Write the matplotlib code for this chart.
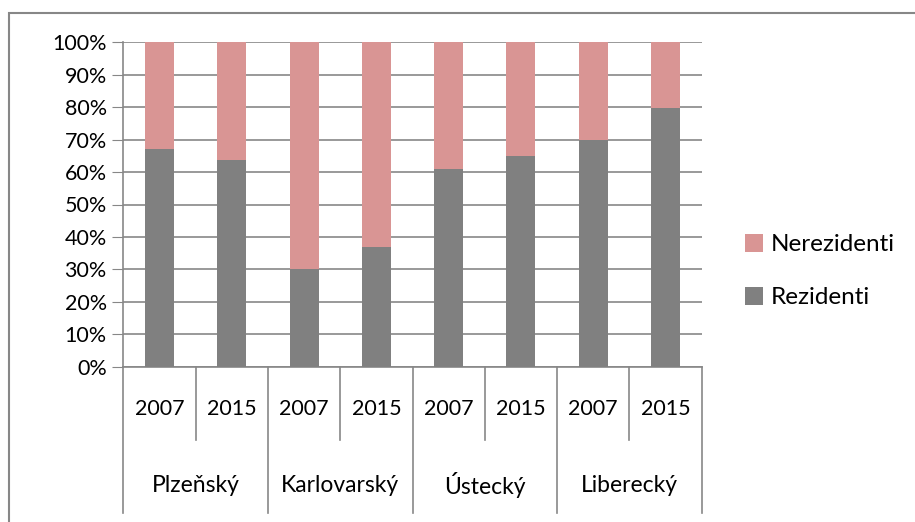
import matplotlib.pyplot as plt
from matplotlib.patches import Rectangle
from matplotlib.ticker import FuncFormatter

plt.rcParams['font.family'] = ['Lato', 'DejaVu Sans']

regions = ['Plzeňský', 'Karlovarský', 'Ústecký', 'Liberecký']
years = ['2007', '2015', '2007', '2015', '2007', '2015', '2007', '2015']
rezidenti = [67.0, 63.8, 30.2, 37.0, 60.8, 65.0, 70.0, 79.8]
nerezidenti = [100 - v for v in rezidenti]

c_rez = '#808080'
c_nerez = '#D99594'
c_line = '#878787'

W, H = 915, 522
fig = plt.figure(figsize=(W / 100, H / 100), dpi=100)

# outer chart border
fig.patches.append(Rectangle((9 / W, -0.02), 1.0, 1.02 - 13 / H,
                             transform=fig.transFigure, fill=False,
                             edgecolor=c_line, linewidth=1.5))

left, right, top, bottom = 123.3, 701.7, 42.3, 366.7
ax = fig.add_axes([left / W, 1 - bottom / H, (right - left) / W, (bottom - top) / H])

x = range(len(years))
ax.bar(x, [v / 100 for v in rezidenti], width=0.40, color=c_rez, label='Rezidenti', zorder=3)
ax.bar(x, [v / 100 for v in nerezidenti], width=0.40, bottom=[v / 100 for v in rezidenti],
       color=c_nerez, label='Nerezidenti', zorder=3)

ax.set_xlim(-0.5, len(years) - 0.5)
ax.set_ylim(0, 1)
ax.set_yticks([i / 10 for i in range(11)])
ax.yaxis.set_major_formatter(FuncFormatter(lambda v, p: f'{v * 100:.0f}%'))
ax.tick_params(axis='y', length=8, color=c_line, labelsize=15.5, pad=4)
ax.set_xticks([])
ax.grid(axis='y', color=c_line, linewidth=1.2, zorder=0)
for s in ['top', 'right']:
    ax.spines[s].set_visible(False)
ax.spines['left'].set_color(c_line)
ax.spines['bottom'].set_color(c_line)
ax.spines['left'].set_linewidth(1.2)
ax.spines['bottom'].set_linewidth(1.2)

# multi-level category axis
tr = ax.get_xaxis_transform()
ph = bottom - top
h_year = -(440 - bottom) / ph
h_reg = -(513 - bottom) / ph
for i in range(len(years) + 1):
    xe = i - 0.5
    y1 = h_reg if i % 2 == 0 else h_year
    ax.plot([xe, xe], [0, y1], transform=tr, color=c_line, linewidth=1.2, clip_on=False)
for i, yr in enumerate(years):
    ax.text(i, -(409 - bottom) / ph, yr, transform=tr,
            ha='center', va='center', fontsize=15.5)
for j, reg in enumerate(regions):
    ax.text(2 * j + 0.5, -(485 - bottom) / ph, reg, transform=tr,
            ha='center', va='center', fontsize=16.5)

handles, labels = ax.get_legend_handles_labels()
fig.legend(handles[::-1], labels[::-1], loc='center left',
           bbox_to_anchor=(723 / W, 1 - 271 / H), frameon=False, fontsize=17.5,
           handlelength=0.75, handleheight=0.75, handletextpad=0.3, labelspacing=1.3)

fig.savefig('out.png', dpi=100)
